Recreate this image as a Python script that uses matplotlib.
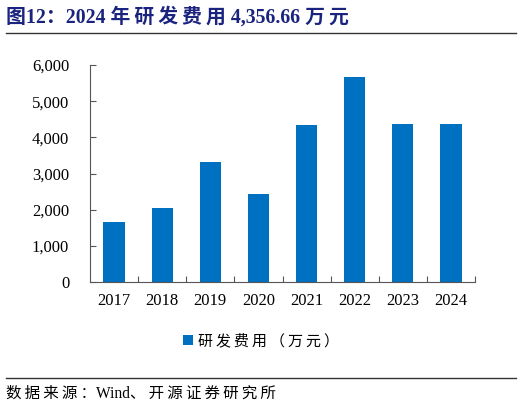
import matplotlib.pyplot as plt
from matplotlib.ticker import FuncFormatter

years = ['2017', '2018', '2019', '2020', '2021', '2022', '2023', '2024']
rd_cost = [1660, 2040, 3320, 2430, 4330, 5670, 4370, 4356.66]

serif = ['Liberation Serif', 'Noto Sans CJK SC', 'DejaVu Sans']
plt.rcParams['font.family'] = serif


def is_cjk(ch):
    return ord(ch) > 0x2000


def spaced(s, gap='\u2009'):
    # thin gap between neighbouring CJK characters, like the wide Song-style type
    out = ''
    for i, ch in enumerate(s):
        out += ch
        if i + 1 < len(s) and is_cjk(ch) and is_cjk(s[i + 1]):
            out += gap
    return out


fig = plt.figure(figsize=(5.22, 4.08), dpi=100)
ax = fig.add_axes([90 / 522, 1 - 282 / 408, 385 / 522, 217 / 408])

x = range(len(years))
ax.bar(x, rd_cost, width=0.44, color='#0070C0', label=spaced('研发费用（万元）'))
ax.set_xlim(-0.5, len(years) - 0.5)
ax.set_ylim(0, 6000)
ax.set_yticks(range(0, 6001, 1000))
ax.yaxis.set_major_formatter(FuncFormatter(lambda v, p: f'{int(v):,}'))
ax.set_xticks([i + 0.5 for i in x])
ax.set_xticklabels([])
ax.set_xticks(list(x), minor=True)
ax.set_xticklabels(years, minor=True)
ax.tick_params(axis='x', which='minor', length=0, labelsize=12, pad=8)
ax.tick_params(axis='x', which='major', length=4, direction='in', color='#555555')
ax.tick_params(axis='y', length=4, direction='in', labelsize=12, pad=15, color='#555555')
for s in ['top', 'right']:
    ax.spines[s].set_visible(False)
for s in ['left', 'bottom']:
    ax.spines[s].set_color('#555555')

fig.legend(loc='center left', bbox_to_anchor=(169 / 522, 1 - 341 / 408), frameon=False,
           handlelength=0.7, handleheight=0.7, handletextpad=0.3,
           prop={'family': serif, 'size': 10.8})

fig.text(6 / 522, 1 - 17 / 408, spaced('图12：2024 年研发费用 4,356.66 万元'), fontsize=14.3,
         fontweight='bold', color='#1A237E', va='center')
fig.add_artist(plt.Line2D([6 / 522, 516 / 522], [1 - 33 / 408] * 2, color='#333333', lw=1))
fig.add_artist(plt.Line2D([6 / 522, 516 / 522], [1 - 378 / 408] * 2, color='#333333', lw=1))
fig.text(6 / 522, 1 - 394 / 408, spaced('数据来源：Wind、开源证券研究所'), fontsize=11.2,
         va='center')

fig.savefig('out.png', dpi=100)
